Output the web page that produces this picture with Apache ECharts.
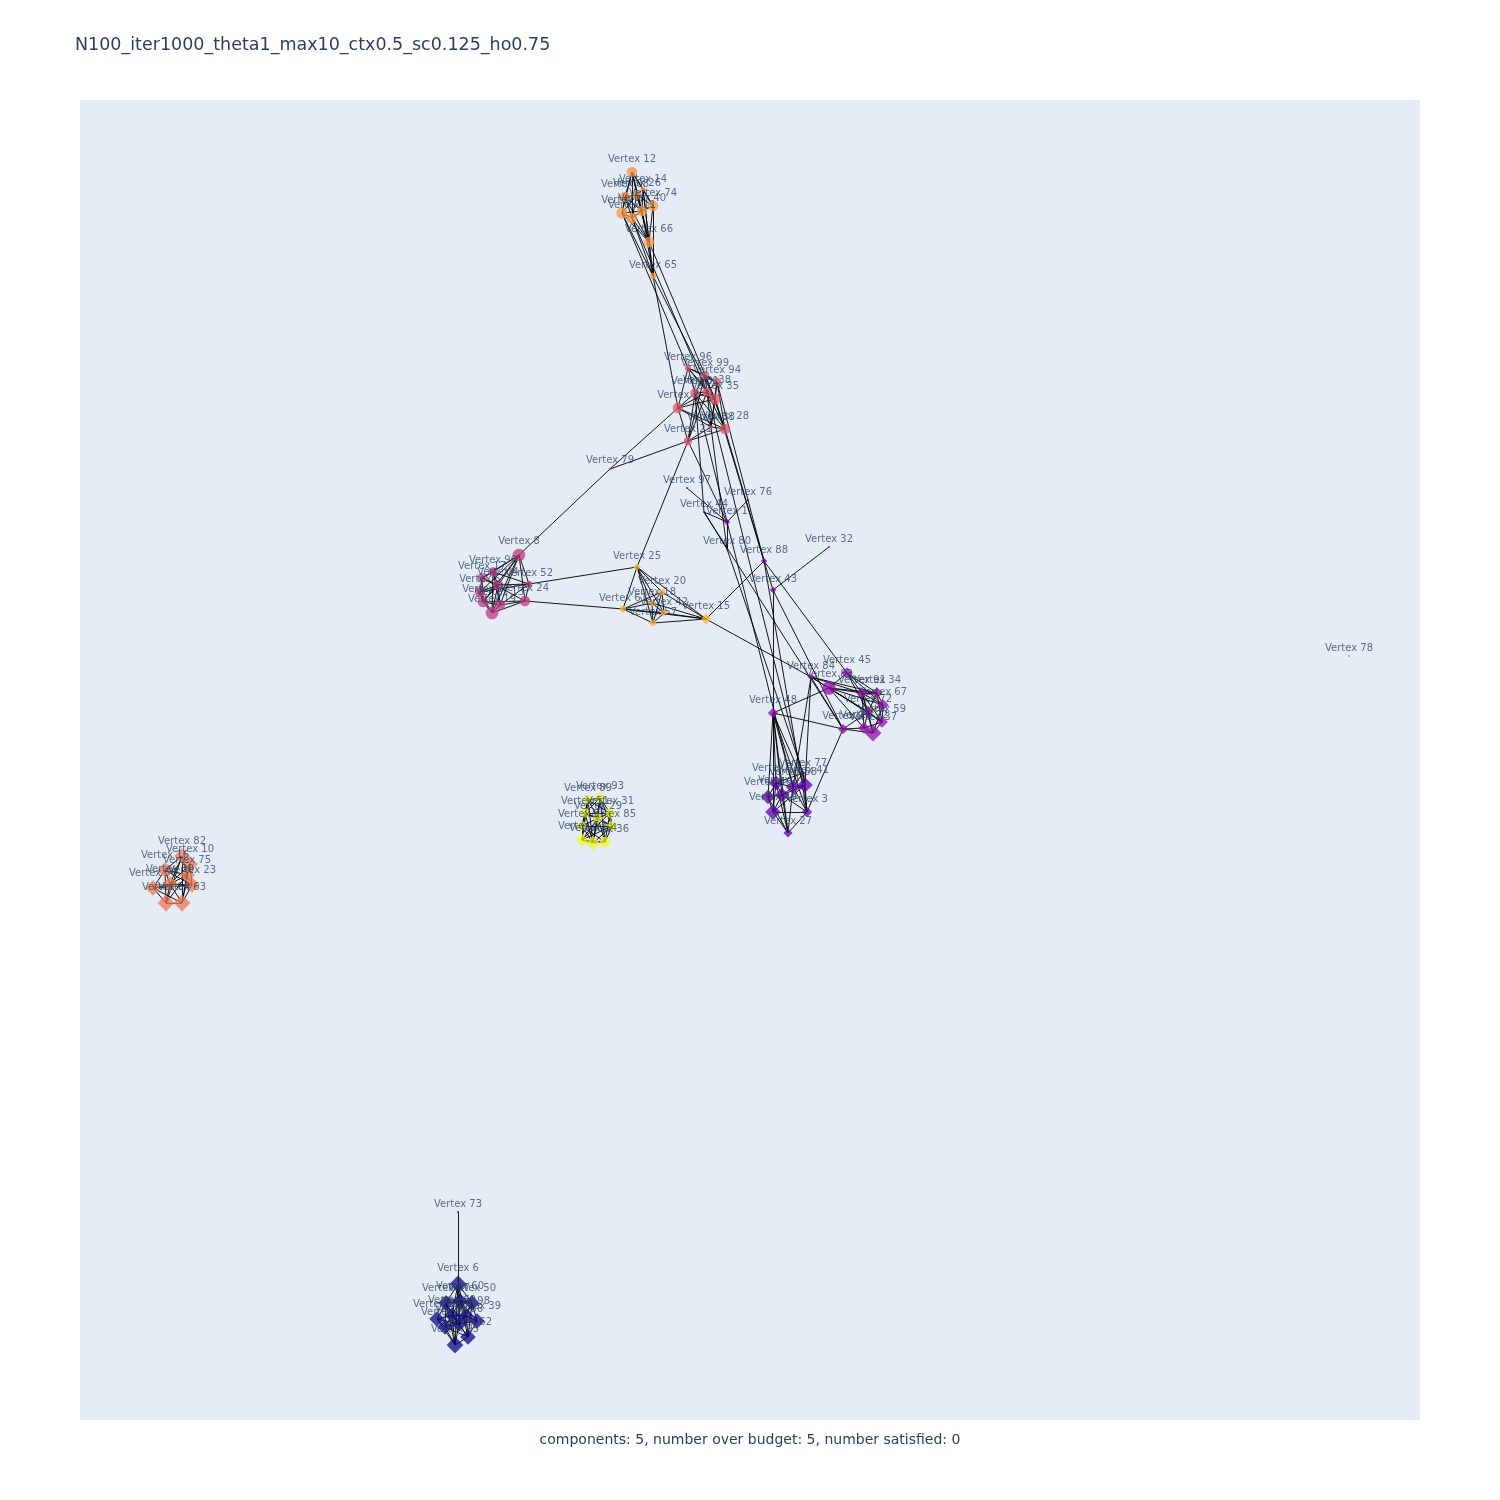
<!DOCTYPE html>
<html>
<head>
<meta charset="utf-8">
<script src="https://cdn.jsdelivr.net/npm/echarts@6/dist/echarts.min.js"></script>
<style>
html,body{margin:0;padding:0;background:#fff;}
#chart{width:1500px;height:1500px;}
</style>
</head>
<body>
<div id="chart"></div>
<script>
// vertices, listed cluster by cluster (layout coords, y downwards)
var vertexId = [
    12,14,26,68,74,40,11,0,66,65,          // orange top
    96,99,94,38,35,81,2,28,33,21,79,       // red
    97,76,44,1,80,88,32,43,                // purple links
    25,20,18,42,61,57,15,                  // gold
    8,90,17,52,24,4,5,7,13,19,             // pink
    45,84,83,91,34,67,72,59,48,9,22,37,    // purple right
    77,70,58,41,46,47,3,49,27,             // purple bottom
    93,89,31,29,51,55,85,53,54,36,         // yellow
    82,10,16,75,23,30,56,64,63,            // orange left
    73,6,60,87,50,92,69,98,39,71,86,62,95, // blue
    78
];
var vertexX = [
    552,563,557,545,573,562,552,542,569,573,
    608,625,637,627,635,615,598,645,631,608,530,
    607,668,624,647,647,684,749,693,
    557,582,572,584,543,573,626,
    439,413,402,449,445,418,400,403,420,412,
    767,731,749,782,797,803,788,802,693,763,784,793,
    723,696,713,725,688,702,727,693,708,
    520,508,530,518,505,502,532,502,513,525,
    102,110,85,107,112,90,73,86,102,
    378,378,380,366,392,357,372,386,397,365,379,388,375,
    1269
];
var vertexY = [
    72,89,95,97,106,111,118,113,142,176,
    268,275,282,292,299,293,308,329,327,341,369,
    388,400,412,422,449,461,447,490,
    467,492,503,513,509,523,519,
    455,472,478,484,501,485,492,502,505,513,
    573,577,588,593,593,605,612,622,613,629,628,633,
    673,683,687,685,697,695,712,712,733,
    698,700,713,718,713,726,726,740,743,742,
    756,764,770,775,785,784,788,803,803,
    1112,1184,1201,1203,1203,1219,1215,1216,1221,1227,1224,1237,1245,
    556
];
var vertexGroup = [
    0,0,0,0,0,0,0,0,0,0,
    1,1,1,1,1,1,1,1,1,1,1,
    2,2,2,2,2,2,2,2,
    3,3,3,3,3,3,3,
    4,4,4,4,4,4,4,4,4,4,
    5,5,5,5,5,5,5,5,5,5,5,5,
    6,6,6,6,6,6,6,6,6,
    7,7,7,7,7,7,7,7,7,7,
    8,8,8,8,8,8,8,8,8,
    9,9,9,9,9,9,9,9,9,9,9,9,9,
    10
];
var vertexWeight = [
    10,5,9,10,10,10,10,11,10,6,
    6,8,8,9,11,9,10,10,4,8,3,
    2,2,2,5,2,5,2,5,
    6,6,6,6,6,6,8,
    12,9,9,6,10,10,10,10,10,12,
    9,5,13,9,9,9,9,9,8,8,9,13,
    4,11,11,12,11,11,8,12,7,
    9,9,9,9,9,9,9,10,11,10,
    12,12,12,12,12,12,12,13,13,
    2,13,12,12,12,12,12,12,12,12,12,12,13,
    2
];
// 0 = circle, 1 = diamond
var vertexKind = [
    0,0,0,0,0,0,0,0,0,0,
    0,0,0,0,0,0,0,0,0,0,0,
    0,0,0,1,0,1,0,1,
    1,0,0,0,0,0,1,
    0,0,0,0,0,0,0,0,0,0,
    1,1,0,1,1,1,1,1,1,1,1,1,
    1,1,1,1,1,1,1,1,1,
    0,0,0,0,0,0,0,1,1,0,
    1,1,1,1,1,1,1,1,1,
    0,1,1,1,1,1,1,1,1,1,1,1,1,
    0
];

var edgesOrange = [[12,14],[12,26],[12,68],[12,74],[12,40],[12,11],[12,0],[12,66],[14,26],[14,74],[14,40],[14,66],[14,65],
    [26,68],[26,74],[26,40],[26,11],[26,0],[26,66],[68,40],[68,11],[68,0],[68,66],[74,40],[74,66],[74,65],
    [40,11],[40,0],[40,66],[40,65],[11,0],[11,66],[11,65],[0,66],[0,65],[66,65]];
var edgesRed = [[96,99],[96,94],[96,38],[96,81],[96,2],[96,35],[99,94],[99,38],[99,35],[99,81],[99,28],[94,38],[94,35],
    [94,28],[94,33],[38,35],[38,81],[38,2],[38,28],[38,33],[38,21],[35,81],[35,2],[35,28],[35,33],[81,2],[81,28],
    [81,33],[81,21],[2,28],[2,33],[2,21],[28,33],[28,21],[33,21],[99,21]];
var edgesGold = [[25,20],[25,18],[25,42],[25,61],[25,57],[25,15],[20,18],[20,42],[20,61],[20,57],[20,15],[18,42],[18,61],
    [18,57],[18,15],[42,61],[42,57],[42,15],[61,57],[61,15],[57,15]];
var edgesPink = [[8,90],[8,17],[8,52],[8,24],[8,4],[8,5],[8,7],[8,13],[8,19],[90,17],[90,52],[90,4],[90,13],[90,19],
    [17,4],[17,5],[17,7],[17,24],[52,4],[52,24],[52,13],[52,5],[24,13],[24,19],[24,7],[4,5],[4,7],[4,13],[4,19],
    [5,7],[5,19],[7,13],[7,19],[13,19]];
var edgesPurpleRight = [[45,83],[45,91],[45,34],[45,67],[45,72],[84,83],[84,91],[84,34],[84,72],[84,9],[83,91],[83,34],
    [83,67],[83,72],[83,59],[83,22],[91,34],[91,67],[91,72],[91,59],[91,22],[91,37],[34,67],[34,72],[34,59],[67,72],
    [67,59],[67,37],[72,59],[72,9],[72,22],[72,37],[59,22],[59,37],[9,22],[9,37],[22,37],[48,9],[48,83]];
var edgesPurpleBottom = [[48,70],[48,58],[48,46],[48,47],[48,49],[48,27],[48,3],[48,41],[77,70],[77,58],[77,41],[77,3],
    [70,58],[70,46],[70,47],[70,49],[70,27],[58,41],[58,47],[58,3],[58,27],[41,47],[41,3],[41,49],[46,47],[46,49],
    [46,27],[47,3],[47,49],[47,27],[3,49],[3,27],[49,27]];
var edgesYellow = [[93,89],[93,31],[93,29],[93,51],[93,85],[93,36],[93,54],[89,31],[89,29],[89,51],[89,55],[89,53],
    [89,54],[31,29],[31,85],[31,36],[31,51],[31,53],[29,51],[29,55],[29,85],[29,53],[29,54],[29,36],[51,55],[51,85],
    [51,53],[51,54],[55,85],[55,53],[55,54],[55,36],[85,54],[85,36],[85,53],[53,54],[53,36],[54,36]];
var edgesOrangeLeft = [[82,10],[82,16],[82,75],[82,30],[82,64],[82,63],[10,75],[10,23],[10,30],[10,63],[16,75],[16,30],
    [16,56],[16,64],[16,23],[75,23],[75,30],[75,63],[75,64],[23,30],[23,63],[23,56],[30,56],[30,64],[30,63],
    [56,64],[56,63],[64,63]];
var edgesBlue = [[73,6],[6,60],[6,87],[6,50],[6,69],[6,98],[6,86],[6,95],[60,87],[60,50],[60,69],[60,98],[60,86],[60,39],
    [60,62],[87,92],[87,69],[87,71],[87,86],[87,95],[50,98],[50,39],[50,86],[50,62],[92,69],[92,71],[92,95],[92,86],
    [69,98],[69,71],[69,86],[69,62],[69,95],[98,39],[98,86],[98,62],[98,71],[39,86],[39,62],[71,86],[71,95],[71,62],
    [86,62],[86,95],[62,95]];
var edgesBridge = [[65,2],[65,35],[66,99],[0,96],[11,38],[8,79],[79,2],[79,21],[21,25],[21,1],[81,44],[35,88],
    [33,80],[94,76],[81,58],[38,41],[28,88],[97,1],[44,1],[76,1],[44,80],[1,80],[76,88],[88,43],[32,43],[43,48],
    [88,45],[43,9],[88,3],[15,88],[15,84],[44,9],[80,77],[52,25],[24,61],[84,58],[9,3],[84,41]];

var groupColor = ['#f89540','#d8576b','#6a00a8','#fdb42f','#bf3984','#8f0da4','#5c01a6','#f0f921','#ed7953','#0d0887','#e06fb2'];

var nodes = [];
for (var i = 0; i < vertexId.length; i++) {
    var diamond = vertexKind[i] === 1;
    nodes.push({
        name: 'Vertex ' + vertexId[i],
        value: [vertexX[i], vertexY[i]],
        symbol: diamond ? 'diamond' : 'circle',
        symbolSize: diamond ? vertexWeight[i] * 1.3 : vertexWeight[i] * 1.05,
        itemStyle: {color: groupColor[vertexGroup[i]], opacity: 0.75}
    });
}
var allEdges = [].concat(edgesOrange, edgesRed, edgesGold, edgesPink, edgesPurpleRight,
    edgesPurpleBottom, edgesYellow, edgesOrangeLeft, edgesBlue, edgesBridge);
var links = [];
for (var j = 0; j < allEdges.length; j++) {
    links.push({source: 'Vertex ' + allEdges[j][0], target: 'Vertex ' + allEdges[j][1]});
}

var myChart = echarts.init(document.getElementById('chart'));
var option = {
    backgroundColor: '#ffffff',
    animation: false,
    textStyle: {fontFamily: 'DejaVu Sans'},
    title: [
        {
            text: 'N100_iter1000_theta1_max10_ctx0.5_sc0.125_ho0.75',
            left: 75,
            top: 36,
            padding: 0,
            textStyle: {fontFamily: 'DejaVu Sans', fontSize: 17.5, fontWeight: 'normal', color: '#2a3f5f'}
        },
        {
            text: 'components: 5, number over budget: 5, number satisfied: 0',
            left: 'center',
            top: 1433,
            padding: 0,
            textStyle: {fontFamily: 'DejaVu Sans', fontSize: 14, fontWeight: 'normal', color: '#2a3f5f'}
        }
    ],
    grid: {
        left: 80,
        right: 80,
        top: 100,
        bottom: 80,
        show: true,
        backgroundColor: '#e5ecf6',
        borderWidth: 0
    },
    xAxis: {type: 'value', min: 0, max: 1340, show: false},
    yAxis: {type: 'value', min: 0, max: 1320, inverse: true, show: false},
    series: [{
        type: 'graph',
        coordinateSystem: 'cartesian2d',
        layout: 'none',
        data: nodes,
        links: links,
        lineStyle: {color: '#000000', width: 0.9, opacity: 1},
        label: {
            show: true,
            position: 'top',
            distance: 2,
            formatter: '{b}',
            fontFamily: 'DejaVu Sans',
            fontSize: 10,
            color: '#2a3f5f'
        },
        emphasis: {disabled: true}
    }]
};
myChart.setOption(option);
</script>
</body>
</html>
